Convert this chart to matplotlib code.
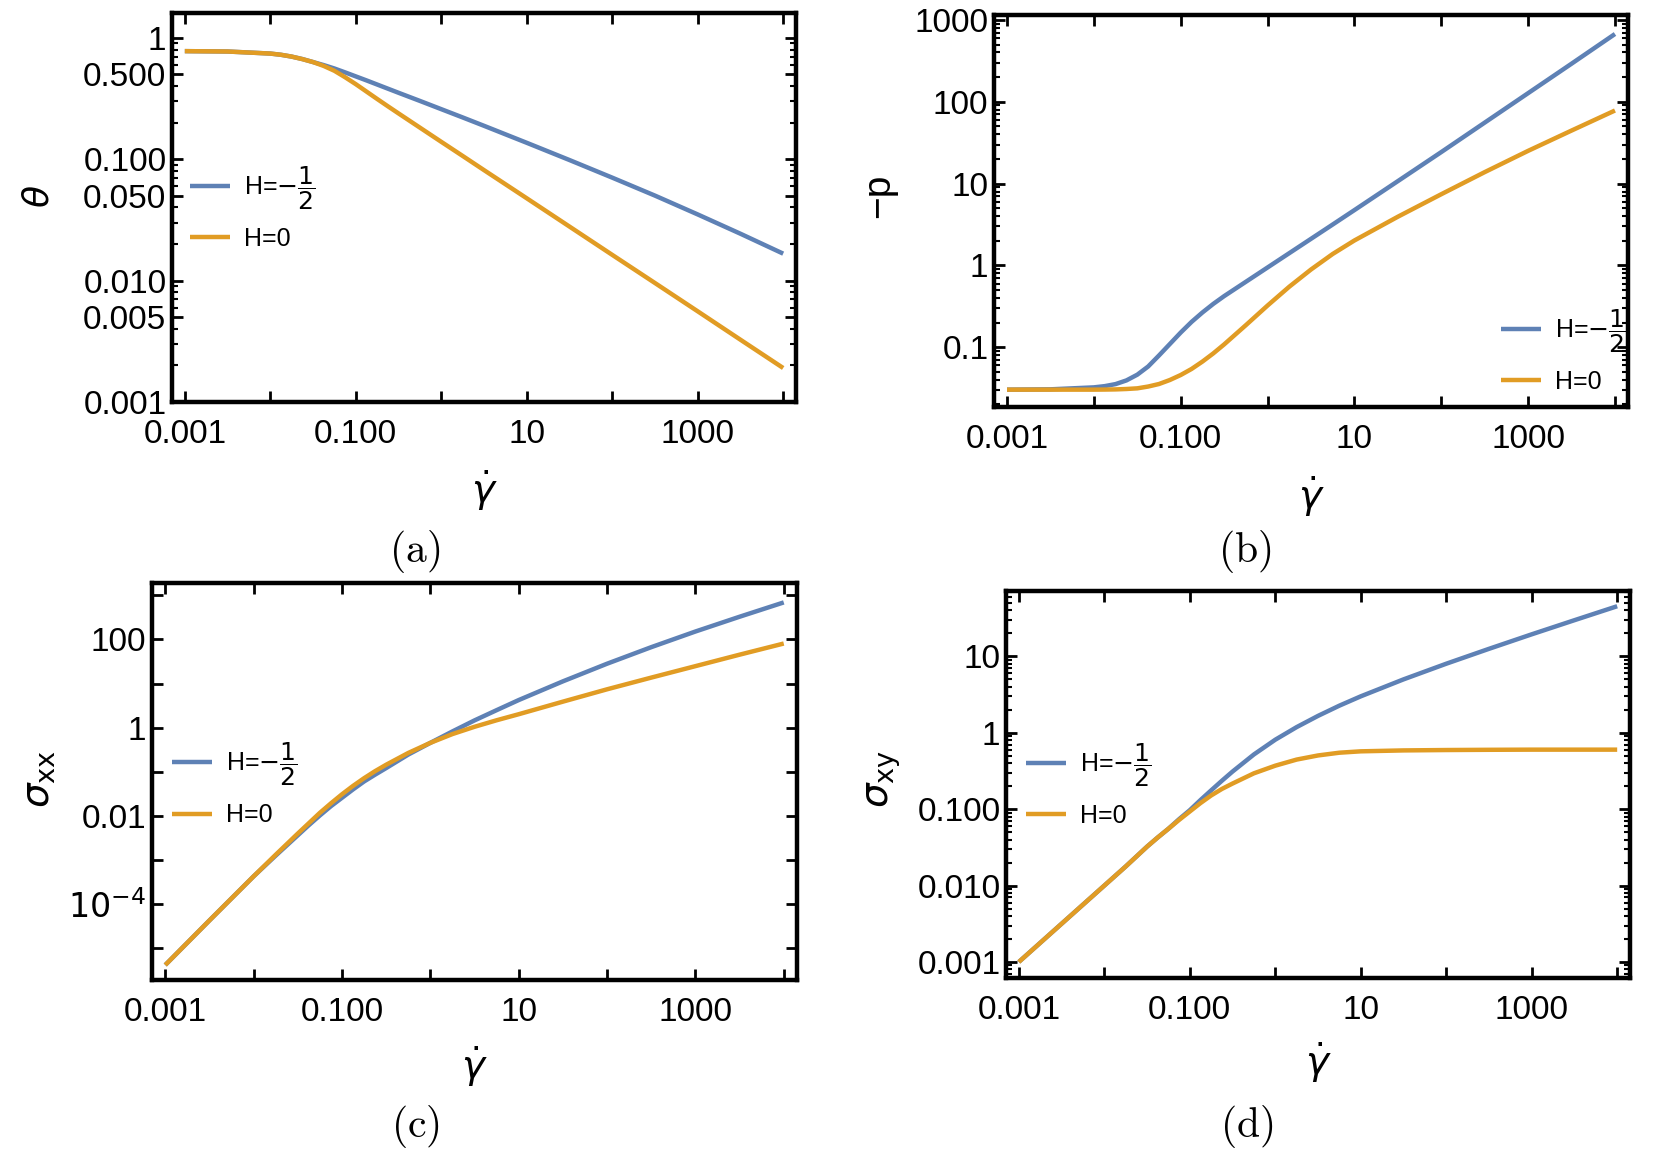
import numpy as np
import matplotlib
matplotlib.use("Agg")
import matplotlib.pyplot as plt
from matplotlib.ticker import FixedLocator, NullFormatter, LogLocator

plt.rcParams['font.family'] = ['Liberation Sans Narrow', 'Liberation Sans', 'DejaVu Sans']
plt.rcParams['mathtext.fontset'] = 'dejavusans'

# ============ DATA (stored as log10) ============

gamma_log10 = [-3, -2.5, -2, -1.875, -1.75, -1.625, -1.5, -1.375, -1.25, -1.125, -1, -0.875,
               -0.75, -0.625, -0.5, -0.25, 0, 0.25, 0.5, 0.75, 1, 1.5, 2, 2.5, 3, 3.5, 4]

# (a) theta
theta_half_log10 = [-0.11, -0.113, -0.13, -0.14, -0.155, -0.175, -0.20, -0.225, -0.253, -0.285,
                    -0.318, -0.351, -0.385, -0.419, -0.453, -0.52, -0.588, -0.656, -0.725,
                    -0.795, -0.865, -1.007, -1.152, -1.30, -1.455, -1.614, -1.778]
theta_zero_log10 = [-0.11, -0.113, -0.13, -0.14, -0.155, -0.176, -0.20, -0.232, -0.272, -0.325,
                    -0.382, -0.443, -0.504, -0.564, -0.623, -0.74, -0.857, -0.973, -1.09,
                    -1.206, -1.322, -1.555, -1.788, -2.02, -2.253, -2.487, -2.72]

# (b) -p
p_half_log10 = [-1.518, -1.514, -1.49, -1.475, -1.45, -1.405, -1.335, -1.235, -1.10, -0.96,
                -0.82, -0.69, -0.575, -0.47, -0.375, -0.2, -0.025, 0.15, 0.325,
                0.5, 0.676, 1.03, 1.385, 1.745, 2.105, 2.465, 2.828]
p_zero_log10 = [-1.518, -1.518, -1.518, -1.517, -1.515, -1.51, -1.502, -1.48, -1.449, -1.40,
                -1.339, -1.265, -1.175, -1.075, -0.965, -0.73, -0.49, -0.26, -0.05,
                0.14, 0.305, 0.595, 0.87, 1.14, 1.40, 1.648, 1.893]

# (c) sigma_xx
sxx_half_log10 = [-5.38, -4.37, -3.37, -3.135, -2.90, -2.67, -2.44, -2.21, -1.99, -1.78,
                  -1.59, -1.40, -1.22, -1.065, -0.916, -0.61, -0.344, -0.085, 0.165,
                  0.397, 0.626, 1.05, 1.45, 1.825, 2.18, 2.515, 2.84]
sxx_zero_log10 = [-5.38, -4.37, -3.37, -3.125, -2.88, -2.64, -2.40, -2.165, -1.93, -1.715,
                  -1.51, -1.32, -1.145, -0.985, -0.84, -0.573, -0.344, -0.145, 0.02,
                  0.168, 0.305, 0.59, 0.87, 1.135, 1.395, 1.655, 1.908]

# (d) sigma_xy
sxy_half_log10 = [-3.0, -2.5, -2.0, -1.875, -1.75, -1.62, -1.49, -1.37, -1.256, -1.13,
                  -1.013, -0.88, -0.753, -0.628, -0.507, -0.283, -0.09, 0.075, 0.222,
                  0.356, 0.478, 0.70, 0.905, 1.10, 1.29, 1.475, 1.658]
sxy_zero_log10 = [-3.0, -2.5, -2.0, -1.875, -1.75, -1.62, -1.49, -1.37, -1.256, -1.14,
                  -1.03, -0.92, -0.82, -0.735, -0.664, -0.53, -0.43, -0.35, -0.296,
                  -0.26, -0.242, -0.23, -0.225, -0.222, -0.22, -0.22, -0.22]

series_labels = [r'H=$-\dfrac{1}{2}$', 'H=0']
series_colors = ['#5E81B5', '#E19C24']

x_decades = [1e-3, 1e-2, 1e-1, 1, 10, 100, 1000, 1e4]
x_labels = ['0.001', '', '0.100', '', '10', '', '1000', '']

W, H = 1661, 1153
fig = plt.figure(figsize=(W / 100, H / 100), dpi=100)


def px_axes(left, top, right, bottom):
    return fig.add_axes([left / W, 1 - bottom / H, (right - left) / W, (bottom - top) / H])


def style_axes(ax, ylim, yticks, ylabels, yminor=True):
    ax.set_xscale('log')
    ax.set_yscale('log')
    ax.set_xlim(10 ** -3.15, 10 ** 4.15)
    ax.set_ylim(*ylim)
    ax.xaxis.set_major_locator(FixedLocator(x_decades))
    ax.set_xticklabels(x_labels)
    ax.xaxis.set_minor_locator(FixedLocator([]))
    ax.yaxis.set_major_locator(FixedLocator(yticks))
    ax.set_yticklabels(ylabels)
    if yminor:
        ax.yaxis.set_minor_locator(LogLocator(base=10, subs=np.arange(2, 10), numticks=30))
    else:
        ax.yaxis.set_minor_locator(FixedLocator([]))
    ax.yaxis.set_minor_formatter(NullFormatter())
    ax.tick_params(which='both', direction='in', top=True, right=True, width=2,
                   labelsize=24, colors='black')
    ax.tick_params(which='major', length=8)
    ax.tick_params(which='minor', length=4, width=1.5)
    ax.tick_params(axis='x', pad=12)
    ax.tick_params(axis='y', pad=4)
    for s in ax.spines.values():
        s.set_linewidth(3.2)


def draw(ax, half, zero):
    g = 10 ** np.array(gamma_log10)
    l1, = ax.plot(g, 10 ** np.array(half), color=series_colors[0], lw=3.2, solid_capstyle='butt')
    l2, = ax.plot(g, 10 ** np.array(zero), color=series_colors[1], lw=3.2, solid_capstyle='butt')
    return [l1, l2]


def add_legend(ax, handles, anchor):
    ax.legend(handles, series_labels, loc='center left', bbox_to_anchor=anchor, frameon=False,
              fontsize=18, handlelength=1.6, handletextpad=0.55, labelspacing=0.6,
              borderpad=0, borderaxespad=0)


# (a)
ax_a = px_axes(172, 13, 796, 402)
h = draw(ax_a, theta_half_log10, theta_zero_log10)
style_axes(ax_a, (1e-3, 1.6), [1, 0.5, 0.1, 0.05, 0.01, 0.005, 0.001],
           ['1', '0.500', '0.100', '0.050', '0.010', '0.005', '0.001'])
add_legend(ax_a, h, (0.029, 0.50))
ax_a.set_ylabel(r'$\theta$', fontsize=26)
ax_a.yaxis.set_label_coords(-0.185, 0.53)

# (b)
ax_b = px_axes(994, 15, 1628, 407)
h = draw(ax_b, p_half_log10, p_zero_log10)
style_axes(ax_b, (10 ** -1.73, 10 ** 3.06), [1000, 100, 10, 1, 0.1],
           ['1000', '100', '10', '1', '0.1'])
add_legend(ax_b, h, (0.80, 0.145))
ax_b.set_ylabel('\u2212p', fontsize=28)
ax_b.yaxis.set_label_coords(-0.153, 0.54)

# (c)
ax_c = px_axes(152, 583, 797, 980)
h = draw(ax_c, sxx_half_log10, sxx_zero_log10)
style_axes(ax_c, (10 ** -5.72, 10 ** 3.28), [1e3, 100, 10, 1, 0.1, 0.01, 1e-3, 1e-4, 1e-5],
           ['', '100', '', '1', '', '0.01', '', r'$\mathsf{10^{-4}}$', ''], yminor=False)
add_legend(ax_c, h, (0.031, 0.494))
ax_c.set_ylabel(r'$\sigma_{\mathsf{xx}}$', fontsize=28)
ax_c.yaxis.set_label_coords(-0.146, 0.506)

# (d)
ax_d = px_axes(1006, 591, 1630, 978)
h = draw(ax_d, sxy_half_log10, sxy_zero_log10)
style_axes(ax_d, (10 ** -3.21, 72), [10, 1, 0.1, 0.01, 0.001],
           ['10', '1', '0.100', '0.010', '0.001'])
add_legend(ax_d, h, (0.032, 0.50))
ax_d.set_ylabel(r'$\sigma_{\mathsf{xy}}$', fontsize=28)
ax_d.yaxis.set_label_coords(-0.165, 0.514)

for ax, yl in [(ax_a, -0.17), (ax_b, -0.171), (ax_c, -0.161), (ax_d, -0.16)]:
    ax.set_xlabel(r'$\dot{\gamma}$', fontsize=28)
    ax.xaxis.set_label_coords(0.5, yl)

# subfigure captions
for txt, cx, cy in [('(a)', 415, 551), ('(b)', 1245, 551), ('(c)', 415, 1126), ('(d)', 1247, 1126)]:
    fig.text(cx / W, 1 - cy / H, r'$\mathrm{' + txt + '}$', ha='center', va='center',
             fontsize=30, math_fontfamily='cm')

fig.savefig('out.png', dpi=100)
